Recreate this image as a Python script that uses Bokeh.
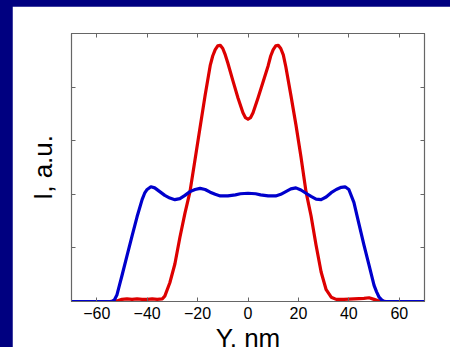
from bokeh.plotting import figure
from bokeh.models import Range1d, LinearAxis, FixedTicker
from bokeh.layouts import column
from bokeh.embed import file_html
from bokeh.resources import INLINE

# Red curve (I, a.u. vs Y, nm)
red_x = [-70, -55, -52, -50, -48, -46, -44, -42, -40, -38, -36, -34, -33, -31, -29, -27, -25, -23,
         -21, -19, -17, -15, -14, -13, -12, -11, -10, -9, -8, -6, -4, -2, -1, 0,
         1, 2, 4, 6, 8, 9, 10, 11, 12, 13, 14, 15, 17, 19, 21, 23, 25, 27, 29, 31, 33,
         35, 38, 42, 46, 48, 50, 52, 55, 70]
red_y = [0.0, 0.0, 0.01, 0.04, 0.05, 0.04, 0.05, 0.04, 0.04, 0.05, 0.04, 0.05, 0.1, 0.35, 0.7, 1.2, 1.65, 2.05,
         2.65, 3.25, 3.85, 4.4, 4.58, 4.70, 4.77, 4.78, 4.72, 4.6, 4.45, 4.12, 3.8, 3.52, 3.43, 3.40,
         3.43, 3.52, 3.8, 4.1, 4.4, 4.58, 4.70, 4.77, 4.78, 4.72, 4.6, 4.38, 3.85, 3.30, 2.70, 2.05, 1.6, 1.05, 0.55, 0.22, 0.08,
         0.04, 0.04, 0.05, 0.06, 0.07, 0.04, 0.01, 0.0, 0.0]

# Blue curve
blue_x = [-70, -54, -53, -52, -51, -50, -48, -46, -44, -42, -41, -40, -38.5, -37, -35, -33, -31, -29,
          -27, -25, -23, -21, -19, -17, -15, -13, -11, -8, -5, -3, 0, 3, 5, 8, 11, 13, 15, 17,
          19, 21, 23, 25, 27, 29, 31, 33, 35, 37, 38.5, 40, 42, 44, 46, 48, 50, 51, 52, 53, 54, 70]
blue_y = [0.0, 0.0, 0.03, 0.12, 0.3, 0.48, 0.85, 1.22, 1.58, 1.9, 2.02, 2.09, 2.14, 2.12, 2.05, 1.98, 1.93, 1.90,
          1.92, 1.98, 2.05, 2.09, 2.11, 2.09, 2.04, 2.0, 1.97, 1.97, 1.99, 2.01, 2.02, 2.01, 1.99, 1.97, 1.97, 2.0, 2.05, 2.1,
          2.12, 2.08, 2.02, 1.96, 1.91, 1.90, 1.95, 2.03, 2.09, 2.13, 2.14, 2.09, 1.85, 1.45, 1.05, 0.68, 0.3, 0.18, 0.08, 0.03, 0.0, 0.0]

x_ticks = [-60, -40, -20, 0, 20, 40, 60]
y_ticks = [0, 1, 2, 3, 4, 5]

FONT = "Liberation Sans"
AXC = "#666666"

p = figure(width=438, height=349, output_backend="svg", toolbar_location=None,
           x_range=Range1d(-70, 70), y_range=Range1d(0, 5),
           min_border_left=59, min_border_right=26, min_border_top=27, min_border_bottom=20,
           background_fill_color="white", border_fill_color="white")
p.grid.visible = False
p.outline_line_color = AXC
p.outline_line_width = 1.2

p.line(red_x, red_y, line_color="#dd0000", line_width=3.2, line_join="round")
p.line(blue_x, blue_y, line_color="#0000cc", line_width=3.2, line_join="round")

for ax in p.xaxis:
    ax.ticker = FixedTicker(ticks=x_ticks)
    ax.major_tick_in = 4
    ax.major_tick_out = 0
    ax.minor_tick_line_color = None
    ax.axis_line_color = AXC
    ax.major_tick_line_color = AXC
    ax.major_label_text_font = FONT
    ax.major_label_text_font_size = "16px"
    ax.major_label_text_color = "black"
    ax.major_label_standoff = 5
    ax.axis_label = "Y, nm"
    ax.axis_label_text_font = FONT
    ax.axis_label_text_font_size = "26px"
    ax.axis_label_text_font_style = "normal"
    ax.axis_label_text_color = "black"
    ax.axis_label_standoff = 1

for ax in p.yaxis:
    ax.ticker = FixedTicker(ticks=y_ticks)
    ax.major_tick_in = 4
    ax.major_tick_out = 0
    ax.minor_tick_line_color = None
    ax.axis_line_color = AXC
    ax.major_tick_line_color = AXC
    ax.major_label_text_color = None
    ax.major_label_text_font_size = "1px"
    ax.axis_label = "I, a.u."
    ax.axis_label_text_font = FONT
    ax.axis_label_text_font_size = "26px"
    ax.axis_label_text_font_style = "normal"
    ax.axis_label_text_color = "black"
    ax.axis_label_standoff = 14

top = LinearAxis(ticker=FixedTicker(ticks=x_ticks), major_tick_in=4, major_tick_out=0,
                 minor_tick_line_color=None, axis_line_color=AXC,
                 major_tick_line_color=AXC, major_label_text_color=None,
                 major_label_text_font_size="1px")
right = LinearAxis(ticker=FixedTicker(ticks=y_ticks), major_tick_in=4, major_tick_out=0,
                   minor_tick_line_color=None, axis_line_color=AXC,
                   major_tick_line_color=AXC, major_label_text_color=None,
                   major_label_text_font_size="1px")
p.add_layout(top, "above")
p.add_layout(right, "right")

layout = column(p, width=450,
                styles={"background-color": "#000080", "padding": "6px 0px 0px 12px",
                        "box-sizing": "border-box", "max-height": "347px",
                        "overflow": "hidden"})

open("out.html", "w").write(file_html(layout, INLINE))
